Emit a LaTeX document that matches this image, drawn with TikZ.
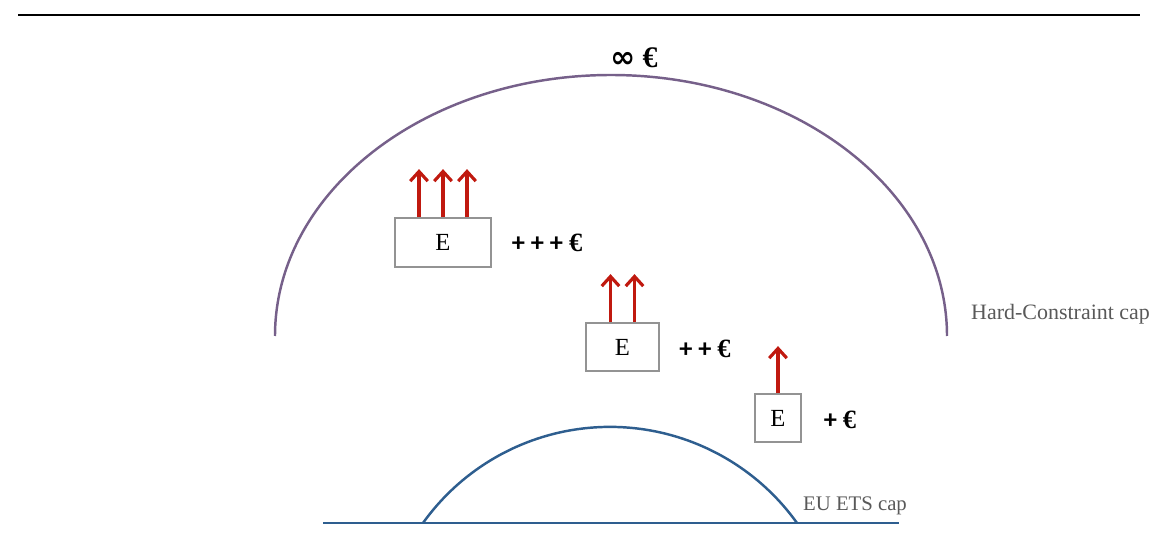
\documentclass[tikz,border=0pt]{standalone}
\usepackage{fontspec}
\setmainfont{Liberation Serif}
\newfontfamily\labelfont{Carlito}
\newfontfamily\symfont{DejaVu Sans}
\usetikzlibrary{arrows.meta}

\definecolor{capred}{HTML}{C0190F}
\definecolor{cappurple}{HTML}{76608A}
\definecolor{capblue}{HTML}{2E5E8F}
\definecolor{capgray}{HTML}{595959}

\newcommand{\eur}{{\rmfamily\bfseries €}}

\begin{document}
\begin{tikzpicture}[x=0.02cm, y=0.02cm, >={Straight Barb[length=5.5pt, width=10pt, line width=1.8pt]}]
\tikzstyle{emitter}=[draw=gray!85, line width=1pt, fill=white, rectangle, align=center, font=\fontsize{14}{16}\selectfont]
\tikzstyle{up}=[->, draw=capred, line width=1.8pt]
\tikzstyle{cost}=[font=\labelfont\bfseries\fontsize{15}{17}\selectfont]
\tikzstyle{capname}=[text=capgray, font=\fontsize{12.5}{14}\selectfont]
\useasboundingbox (0,0) rectangle (1157,545);
\draw[line width=1.2pt] (18,530) -- (1140,530);
% the two caps
\draw[cappurple, line width=1.4pt] (275,209) arc[start angle=180, end angle=0, x radius=336, y radius=261];
\draw[capblue, line width=1.4pt] (323,22) -- (899,22);
\draw[capblue, line width=1.4pt] (797,22) arc[start angle=35.6, end angle=144.4, radius=230];
\node[cost, font=\bfseries\fontsize{17}{19}\selectfont] (inf) at (634,487) {{\symfont\bfseries\fontsize{17}{17}\selectfont ∞}\ €};
\node[capname, anchor=west] (hard) at (965,231) {Hard-Constraint cap};
\node[capname, anchor=west, font=\fontsize{11.8}{14}\selectfont] (ets) at (797,39) {EU ETS cap};
% emitters
\node[emitter, minimum width=1.92cm, minimum height=0.98cm] (e1) at (443,302.5) {E};
\node[emitter, minimum width=1.46cm, minimum height=0.96cm] (e2) at (622.5,198) {E};
\node[emitter, minimum width=0.92cm, minimum height=0.96cm] (e3) at (778,127) {E};
\node[cost] (c1) at (547,302) {+ + + \eur};
\node[cost] (c2) at (705,196) {+ + \eur};
\node[cost] (c3) at (840,125) {+ \eur};
\foreach \dx in {-24,0,24}
  \draw[up] ([xshift=\dx*0.02cm]e1.north) -- ++(0,48);
\foreach \dx in {-12,12}
  \draw[up] ([xshift=\dx*0.02cm]e2.north) -- ++(0,48);
\draw[up] (e3.north) -- ++(0,47);
\end{tikzpicture}
\end{document}
